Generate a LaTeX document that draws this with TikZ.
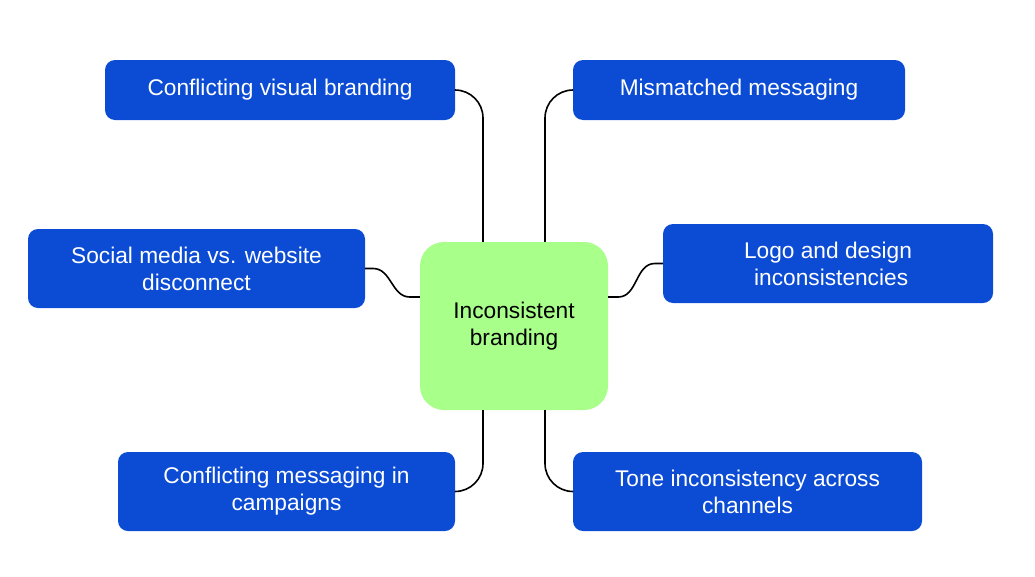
\documentclass[tikz,border=0pt]{standalone}
\usepackage{fontspec}
\setmainfont{Liberation Sans}
\usepackage{tikz}
\usepackage{xcolor}

\begin{document}
\begin{tikzpicture}[x=1pt,y=-1pt,
  leaf/.style={draw=none,fill=branchblue,rounded corners=10pt,text=white,
    align=center,font=\fontsize{22.7}{27}\selectfont,inner sep=0pt},
  hubbox/.style={fill=hubgreen,rounded corners=24pt,align=center,
    font=\fontsize{22.7}{27}\selectfont,minimum width=188pt,minimum height=168pt},
  link/.style={draw=black,line width=1.6pt}]
% Define components
\definecolor{branchblue}{RGB}{12,76,212}
\definecolor{hubgreen}{RGB}{168,255,138}

\useasboundingbox (0,0) rectangle (1035,576);

% Central topic
\node[hubbox] (hub) at (514,326) {Inconsistent\\branding};

% Draw issues
\node[leaf,minimum width=350pt,minimum height=60pt] (visual) at (280,90) {Conflicting visual branding};
\node[leaf,minimum width=332pt,minimum height=60pt] (mismatch) at (739,90) {Mismatched messaging};
\node[leaf,minimum width=337pt,minimum height=79pt] (social) at (196.5,268.5) {Social media vs. website\\disconnect};
\node[leaf,minimum width=330pt,minimum height=79pt] (logo) at (828,263.5) {Logo and design\\\ inconsistencies};
\node[leaf,minimum width=337pt,minimum height=79pt] (campaign) at (286.5,491.5) {Conflicting messaging in\\campaigns};
\node[leaf,minimum width=349pt,minimum height=79pt] (tone) at (747.5,491.5) {Tone inconsistency across\\channels};

% Draw connections
\draw[link,rounded corners=28pt] (visual.east) -| ([xshift=-31pt]hub.north);
\draw[link,rounded corners=28pt] (mismatch.west) -| ([xshift=31pt]hub.north);
\draw[link] (social.east) -- ++(8,0) to[out=0,in=180] ([yshift=29pt,xshift=-10pt]hub.west) -- ([yshift=29pt]hub.west);
\draw[link] (logo.west) -- ++(-8,0) to[out=180,in=0] ([yshift=29pt,xshift=10pt]hub.east) -- ([yshift=29pt]hub.east);
\draw[link,rounded corners=28pt] ([xshift=-31pt]hub.south) |- (campaign.east);
\draw[link,rounded corners=28pt] ([xshift=31pt]hub.south) |- (tone.west);
\end{tikzpicture}
\end{document}
